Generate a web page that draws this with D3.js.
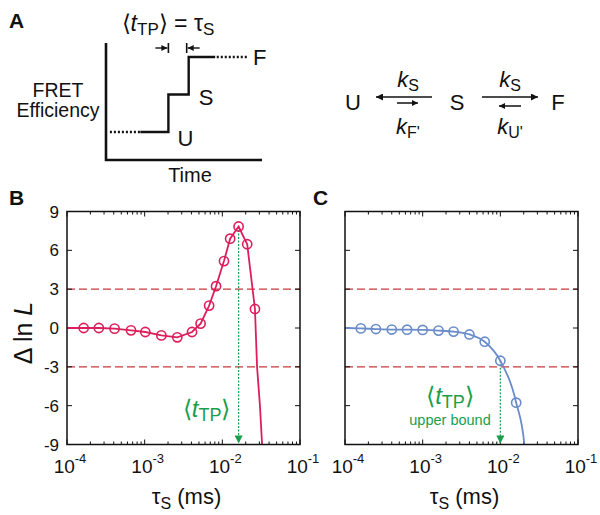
<!DOCTYPE html>
<html><head><meta charset="utf-8">
<script src="https://cdn.jsdelivr.net/npm/d3@7"></script>
<style>
body{margin:0;background:#fff}
svg{display:block}
text{font-family:"Liberation Sans",Arial,Helvetica,sans-serif;fill:#111}
</style>
</head><body>
<svg id="chart" width="600" height="515"></svg>
<script>
// ---------- data ----------
// Panel B (red): tau_S (ms) and delta lnL
const tauB   = [1.64e-4, 2.57e-4, 4.1e-4, 6.67e-4, 1.02e-3, 1.64e-3, 2.63e-3, 4.07e-3, 5.25e-3, 6.76e-3, 8.3e-3, 1.05e-2, 1.26e-2, 1.62e-2, 2.09e-2, 2.63e-2];
const dlnLB  = [0.0, 0.0, -0.05, -0.18, -0.31, -0.57, -0.72, -0.31, 0.34, 1.73, 3.23, 5.17, 6.9, 7.84, 6.47, 1.47];
// fitted curve beyond the markers
const tauHeadB  = [1.0e-4];
const dlnLHeadB = [0.0];
const tauTailB  = [2.8e-2, 3.05e-2, 3.25e-2, 3.4e-2];
const dlnLTailB = [-3.0, -6.0, -9.0, -11.0];
const tTPB = 1.62e-2;

// Panel C (blue)
const tauC   = [1.6e-4, 2.5e-4, 4.0e-4, 6.3e-4, 1.0e-3, 1.6e-3, 2.5e-3, 4.0e-3, 6.3e-3, 1.0e-2, 1.6e-2];
const dlnLC  = [-0.03, -0.08, -0.12, -0.13, -0.15, -0.2, -0.28, -0.5, -1.06, -2.53, -5.77];
const tauHeadC  = [1.0e-4];
const dlnLHeadC = [0.0];
const tauTailC  = [2.04e-2, 2.2e-2];
const dlnLTailC = [-9.0, -12.5];
const tTPC = 1.0e-2;

const thresholds = [3, -3];
const yTicks = [-9, -6, -3, 0, 3, 6, 9];
const xTickExps = [-4, -3, -2, -1];

// Panel A schematic: step trace (time units, level units: U=0, S=1, F=2)
const traceT = [2.2, 4.0, 4.0, 5.3, 5.3, 7.0];
const traceL = [0, 0, 1, 1, 2, 2];
const dotUT = [0.25, 2.2], dotUL = [0, 0];
const dotFT = [7.1, 9.1],  dotFL = [2, 2];

// ---------- drawing ----------
const svg = d3.select("#chart");
const RED = "#dc1f5c", BLUE = "#6a8ccb", GREEN = "#1a9e4b", DASH = "#c8383c";

const defs = svg.append("defs");
function marker(id, color, w, h) {
  defs.append("marker").attr("id", id).attr("viewBox", "0 0 10 10")
    .attr("refX", 10).attr("refY", 5).attr("markerUnits", "userSpaceOnUse")
    .attr("markerWidth", w).attr("markerHeight", h).attr("orient", "auto")
    .append("path").attr("d", "M0,0L10,5L0,10Z").attr("fill", color);
}
marker("ahBlack", "#111", 9, 7);
marker("ahSmall", "#111", 7, 6);
marker("ahGreen", GREEN, 9, 8);

// ---- Panel labels
svg.append("text").attr("x", 9).attr("y", 28).attr("font-size", 21).attr("font-weight", "bold").text("A");
svg.append("text").attr("x", 9).attr("y", 205).attr("font-size", 21).attr("font-weight", "bold").text("B");
svg.append("text").attr("x", 313).attr("y", 205).attr("font-size", 21).attr("font-weight", "bold").text("C");

// ---- Panel A schematic
const xA = d3.scaleLinear().domain([0, 10]).range([106, 262]);
const yA = d3.scaleLinear().domain([0, 2]).range([132, 57]);
const gA = svg.append("g");
gA.append("path").attr("d", `M${xA(0)},43V160H${xA(10)}`).attr("fill", "none").attr("stroke", "#111").attr("stroke-width", 2.6);
const lineA = d3.line().x(d => xA(d[0])).y(d => yA(d[1]));
gA.append("path").datum(d3.zip(traceT, traceL)).attr("d", lineA).attr("fill", "none").attr("stroke", "#111").attr("stroke-width", 2.4);
[[dotUT, dotUL], [dotFT, dotFL]].forEach(([t, l]) => {
  gA.append("path").datum(d3.zip(t, l)).attr("d", lineA).attr("fill", "none")
    .attr("stroke", "#111").attr("stroke-width", 2.4).attr("stroke-dasharray", "2,2");
});
gA.append("text").attr("x", xA(4.0) + 9).attr("y", yA(0) + 14).attr("font-size", 22).text("U");
gA.append("text").attr("x", xA(5.3) + 10).attr("y", yA(1) + 10).attr("font-size", 22).text("S");
gA.append("text").attr("x", xA(9.1) + 5).attr("y", yA(2) + 8).attr("font-size", 22).text("F");
gA.append("text").attr("x", 58).attr("y", 97).attr("font-size", 19.5).attr("text-anchor", "middle").text("FRET");
gA.append("text").attr("x", 58).attr("y", 117).attr("font-size", 19.5).attr("text-anchor", "middle").text("Efficiency");
gA.append("text").attr("x", 190).attr("y", 182).attr("font-size", 20).attr("text-anchor", "middle").text("Time");
// interval markers
const yM = 48;
gA.append("line").attr("x1", xA(4.0)).attr("x2", xA(4.0)).attr("y1", yM - 5).attr("y2", yM + 5).attr("stroke", "#111").attr("stroke-width", 1.6);
gA.append("line").attr("x1", xA(4.0) - 13).attr("x2", xA(4.0) - 1).attr("y1", yM).attr("y2", yM).attr("stroke", "#111").attr("stroke-width", 1.4).attr("marker-end", "url(#ahSmall)");
gA.append("line").attr("x1", xA(5.3) - 2).attr("x2", xA(5.3) - 2).attr("y1", yM - 5).attr("y2", yM + 5).attr("stroke", "#111").attr("stroke-width", 1.6);
gA.append("line").attr("x1", xA(5.3) + 11).attr("x2", xA(5.3) - 1).attr("y1", yM).attr("y2", yM).attr("stroke", "#111").attr("stroke-width", 1.4).attr("marker-end", "url(#ahSmall)");
// title <t_TP> = tau_S
const tt = gA.append("text").attr("x", 168).attr("y", 31).attr("font-size", 23).attr("text-anchor", "middle");
tt.append("tspan").text("\u27E8");
tt.append("tspan").attr("font-style", "italic").text("t");
tt.append("tspan").attr("font-size", 17).attr("dy", 4).text("TP");
tt.append("tspan").attr("dy", -4).text("\u27E9 = \u03C4");
tt.append("tspan").attr("font-size", 17).attr("dy", 4).text("S");

// ---- Kinetic scheme
const gK = svg.append("g");
[["U", 353], ["S", 457], ["F", 558]].forEach(([s, x]) => {
  gK.append("text").attr("x", x).attr("y", 110).attr("font-size", 22).attr("text-anchor", "middle").text(s);
});
function arr(x1, x2, y, m, w) {
  gK.append("line").attr("x1", x1).attr("x2", x2).attr("y1", y).attr("y2", y)
    .attr("stroke", "#111").attr("stroke-width", w).attr("marker-end", `url(#${m})`);
}
arr(432, 376, 97, "ahBlack", 1.5);
arr(397, 418, 103, "ahSmall", 1.5);
arr(482, 538, 97, "ahBlack", 1.5);
arr(521, 499, 106, "ahSmall", 1.5);
function kLabel(x, y, sub) {
  const t = gK.append("text").attr("x", x).attr("y", y).attr("font-size", 22).attr("text-anchor", "middle");
  t.append("tspan").attr("font-style", "italic").text("k");
  t.append("tspan").attr("font-size", 16).attr("dy", 4).text(sub);
}
kLabel(408, 87, "S");
kLabel(408, 134, "F'");
kLabel(510, 87, "S");
kLabel(510, 134, "U'");

// ---- Panels B and C
function panel(left, cfg) {
  const W = 233, top = 211.5, bottom = 444.5;
  const x = d3.scaleLog().domain([1e-4, 1e-1]).range([left, left + W]);
  const y = d3.scaleLinear().domain([-9, 9]).range([bottom, top]);
  const g = svg.append("g");
  const clipId = "clip" + left;
  defs.append("clipPath").attr("id", clipId).append("rect")
    .attr("x", left).attr("y", top).attr("width", W).attr("height", bottom - top);

  // threshold dashed lines
  g.selectAll(".thr").data(thresholds).join("line")
    .attr("x1", left).attr("x2", left + W).attr("y1", d => y(d)).attr("y2", d => y(d))
    .attr("stroke", DASH).attr("stroke-width", 1.3).attr("stroke-dasharray", "8,4");

  // ticks
  const minors = [];
  for (let e = -4; e < -1; e++) for (let k = 2; k <= 9; k++) minors.push(k * Math.pow(10, e));
  const tk = g.append("g").attr("stroke", "#111").attr("stroke-width", 1);
  minors.forEach(v => {
    tk.append("line").attr("x1", x(v)).attr("x2", x(v)).attr("y1", bottom).attr("y2", bottom - 3);
    tk.append("line").attr("x1", x(v)).attr("x2", x(v)).attr("y1", top).attr("y2", top + 3);
  });
  xTickExps.forEach(e => {
    const v = Math.pow(10, e);
    tk.append("line").attr("x1", x(v)).attr("x2", x(v)).attr("y1", bottom).attr("y2", bottom - 5);
    tk.append("line").attr("x1", x(v)).attr("x2", x(v)).attr("y1", top).attr("y2", top + 5);
  });
  yTicks.forEach(v => {
    tk.append("line").attr("x1", left).attr("x2", left + 5).attr("y1", y(v)).attr("y2", y(v));
    tk.append("line").attr("x1", left + W).attr("x2", left + W - 5).attr("y1", y(v)).attr("y2", y(v));
  });

  // x tick labels
  xTickExps.forEach(e => {
    const t = g.append("text").attr("x", x(Math.pow(10, e)) + 3).attr("y", bottom + 28.5)
      .attr("font-size", 19).attr("text-anchor", "middle");
    t.append("tspan").text("10");
    t.append("tspan").attr("font-size", 13).attr("dy", -10).text(String(e));
  });
  const xt = g.append("text").attr("x", left + W / 2 + 3).attr("y", 504).attr("font-size", 22).attr("text-anchor", "middle");
  xt.append("tspan").text("\u03C4");
  xt.append("tspan").attr("font-size", 16).attr("dy", 5).text("S");
  xt.append("tspan").attr("dy", -5).text(" (ms)");

  if (cfg.yLabels) {
    g.selectAll(".yl").data(yTicks).join("text")
      .attr("x", left - 8).attr("y", d => y(d)).attr("dy", "0.36em")
      .attr("font-size", 17).attr("text-anchor", "end").text(d => d);
    const yl = g.append("text").attr("transform", `translate(32,333) rotate(-90)`)
      .attr("font-size", 25).attr("text-anchor", "middle");
    yl.append("tspan").text("\u0394 ln ");
    yl.append("tspan").attr("font-style", "italic").text("L");
  }

  // green arrow
  g.append("line").attr("x1", x(cfg.tTP)).attr("x2", x(cfg.tTP))
    .attr("y1", y(cfg.tTPval)).attr("y2", bottom - 1)
    .attr("stroke", GREEN).attr("stroke-width", 1.2).attr("stroke-dasharray", "2,1.5")
    .attr("marker-end", "url(#ahGreen)");

  // curve
  const pts = d3.zip(cfg.lineX, cfg.lineY);
  g.append("path").datum(pts).attr("clip-path", `url(#${clipId})`)
    .attr("d", d3.line().x(d => x(d[0])).y(d => y(d[1])).curve(cfg.curve))
    .attr("fill", "none").attr("stroke", cfg.color).attr("stroke-width", 1.8);
  g.selectAll(".pt").data(d3.zip(cfg.px, cfg.py)).join("circle")
    .attr("cx", d => x(d[0])).attr("cy", d => y(d[1])).attr("r", 4.6)
    .attr("fill", "none").attr("stroke", cfg.color).attr("stroke-width", 1.6);

  // frame
  g.append("rect").attr("x", left).attr("y", top).attr("width", W).attr("height", bottom - top)
    .attr("fill", "none").attr("stroke", "#111").attr("stroke-width", 1.5);

  // green label
  const lx = cfg.labelX(x), ly = cfg.labelY;
  const gl = g.append("text").attr("x", lx).attr("y", ly).attr("font-size", 24).attr("text-anchor", "middle").style("fill", GREEN);
  gl.append("tspan").style("fill", GREEN).text("\u27E8");
  gl.append("tspan").style("fill", GREEN).attr("font-style", "italic").text("t");
  gl.append("tspan").style("fill", GREEN).attr("font-size", 18).attr("dy", 4).text("TP");
  gl.append("tspan").style("fill", GREEN).attr("dy", -4).text("\u27E9");
  if (cfg.sub) {
    g.append("text").attr("x", lx).attr("y", ly + 21).attr("font-size", 14.5)
      .attr("text-anchor", "middle").style("fill", GREEN).text(cfg.sub);
  }
}

panel(67, {
  color: RED, yLabels: true, curve: d3.curveLinear,
  px: tauB, py: dlnLB,
  lineX: tauHeadB.concat(tauB, tauTailB), lineY: dlnLHeadB.concat(dlnLB, dlnLTailB),
  tTP: tTPB, tTPval: dlnLB[dlnLB.length - 3],
  labelX: x => x(tTPB) - 32, labelY: 417
});
panel(345, {
  color: BLUE, yLabels: false, curve: d3.curveMonotoneX,
  px: tauC, py: dlnLC,
  lineX: tauHeadC.concat(tauC, tauTailC), lineY: dlnLHeadC.concat(dlnLC, dlnLTailC),
  tTP: tTPC, tTPval: dlnLC[dlnLC.length - 2],
  labelX: x => 450, labelY: 404, sub: "upper bound"
});
</script>
</body></html>
